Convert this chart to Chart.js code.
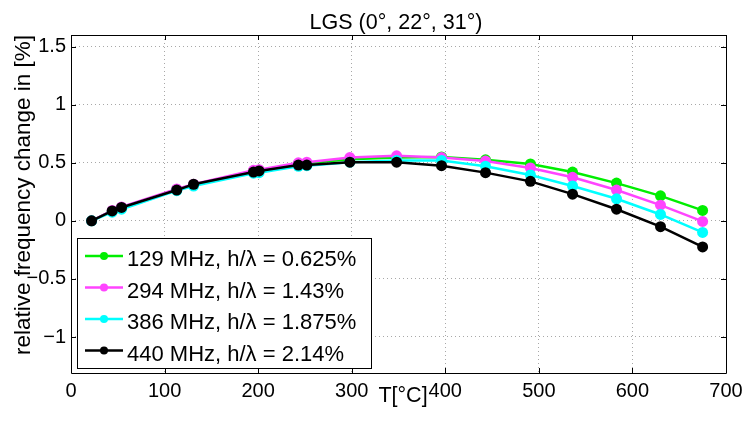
<!DOCTYPE html>
<html>
<head>
<meta charset="utf-8">
<script src="https://cdn.jsdelivr.net/npm/chart.js@4.4.1/dist/chart.umd.min.js"></script>
<style>
  html, body { margin: 0; padding: 0; background: #fff; }
  #wrap { width: 749px; height: 421px; position: relative; }
</style>
</head>
<body>
<div id="wrap"><canvas id="c" width="749" height="421"></canvas></div>
<script>
// chart data
const title = 'LGS (0°, 22°, 31°)';
const xLabel = 'T[°C]';
const yLabel = 'relative frequency change in [%]';
const xTicks = [0, 100, 200, 300, 400, 500, 600, 700];
const yTicks = [-1, -0.5, 0, 0.5, 1, 1.5];

const temps = [22, 44, 54, 113, 131, 195, 201, 243, 252, 298, 348, 396, 443, 491, 536, 583, 630, 675];
const f129 = [0, 0.085, 0.115, 0.27, 0.31, 0.425, 0.435, 0.49, 0.495, 0.53, 0.545, 0.55, 0.525, 0.49, 0.42, 0.325, 0.215, 0.09];
const f294 = [0, 0.09, 0.12, 0.275, 0.315, 0.435, 0.44, 0.5, 0.505, 0.545, 0.56, 0.545, 0.515, 0.455, 0.375, 0.265, 0.135, -0.005];
const f386 = [0, 0.075, 0.1, 0.26, 0.3, 0.41, 0.415, 0.47, 0.475, 0.505, 0.52, 0.52, 0.47, 0.395, 0.3, 0.19, 0.055, -0.1];
const f440 = [0, 0.085, 0.115, 0.265, 0.315, 0.42, 0.43, 0.48, 0.48, 0.505, 0.505, 0.475, 0.415, 0.34, 0.23, 0.1, -0.05, -0.225];

const seriesNames = ['129 MHz, h/λ = 0.625%', '294 MHz, h/λ = 1.43%', '386 MHz, h/λ = 1.875%', '440 MHz, h/λ = 2.14%'];
const seriesValues = [f129, f294, f386, f440];
const seriesColors = ['#00ee00', '#ff44ff', '#00ffff', '#000000'];

const FONT = '"Liberation Sans", Arial, Helvetica, sans-serif';

const datasets = seriesValues.map((vals, i) => ({
  label: seriesNames[i],
  data: temps.map((t, k) => ({ x: t, y: vals[k] })),
  borderColor: seriesColors[i],
  backgroundColor: seriesColors[i],
  borderWidth: 2.5,
  pointRadius: 5.5,
  pointBorderWidth: 0,
  tension: 0,
  // last series on top, like matlab
  order: seriesValues.length - 1 - i
}));

// box, inner ticks, legend and labels
const matlabDecor = {
  id: 'matlabDecor',
  afterDraw(chart) {
    const ctx = chart.ctx;
    const a = chart.chartArea;
    const xs = chart.scales.x, ys = chart.scales.y;
    ctx.save();
    ctx.strokeStyle = '#000';
    ctx.lineWidth = 1;
    ctx.beginPath();
    ctx.rect(Math.round(a.left) + 0.5, Math.round(a.top) + 0.5, Math.round(a.right - a.left), Math.round(a.bottom - a.top));
    ctx.stroke();

    // tick marks pointing inwards
    const tl = 5;
    ctx.beginPath();
    xTicks.forEach(v => {
      const px = Math.round(xs.getPixelForValue(v)) + 0.5;
      ctx.moveTo(px, a.bottom); ctx.lineTo(px, a.bottom - tl);
      ctx.moveTo(px, a.top); ctx.lineTo(px, a.top + tl);
    });
    yTicks.forEach(v => {
      const py = Math.round(ys.getPixelForValue(v)) + 0.5;
      ctx.moveTo(a.left, py); ctx.lineTo(a.left + tl, py);
      ctx.moveTo(a.right, py); ctx.lineTo(a.right - tl, py);
    });
    ctx.stroke();

    // legend
    const lx = 77, ly = 238, lw = 294, lh = 130;
    ctx.fillStyle = '#fff';
    ctx.fillRect(lx, ly, lw, lh);
    ctx.strokeRect(lx + 0.5, ly + 0.5, lw, lh);
    ctx.font = '22px ' + FONT;
    ctx.textBaseline = 'alphabetic';
    ctx.textAlign = 'left';
    seriesNames.forEach((name, i) => {
      const ry = 256 + i * 31.5;
      ctx.strokeStyle = seriesColors[i];
      ctx.lineWidth = 2.5;
      ctx.beginPath();
      ctx.moveTo(85, ry); ctx.lineTo(123, ry);
      ctx.stroke();
      ctx.fillStyle = seriesColors[i];
      ctx.beginPath();
      ctx.arc(104, ry, 4, 0, Math.PI * 2);
      ctx.fill();
      ctx.fillStyle = '#000';
      ctx.fillText(name, 127, ry + 10);
    });

    // title and axis labels
    ctx.fillStyle = '#000';
    ctx.textAlign = 'center';
    ctx.font = '21.5px ' + FONT;
    ctx.fillText(title, 396, 29);
    ctx.fillText(xLabel, 403, 402);
    ctx.translate(30, 195);
    ctx.rotate(-Math.PI / 2);
    ctx.font = '22.5px ' + FONT;
    ctx.fillText(yLabel, 0, 0);
    ctx.restore();
  }
};

new Chart(document.getElementById('c'), {
  type: 'line',
  data: { datasets },
  options: {
    responsive: false,
    animation: false,
    layout: { padding: { top: 35, right: 23, bottom: 0, left: 0 } },
    plugins: { legend: { display: false }, tooltip: { enabled: false }, title: { display: false } },
    scales: {
      x: {
        type: 'linear',
        min: 0, max: 700,
        afterBuildTicks: s => { s.ticks = xTicks.map(v => ({ value: v })); },
        afterFit: s => { s.height = 48; },
        ticks: { color: '#000', font: { family: FONT, size: 20 }, padding: 6, maxRotation: 0 },
        grid: { color: '#a8a8a8', lineWidth: 1, drawTicks: false },
        border: { display: false, dash: [1, 3] }
      },
      y: {
        type: 'linear',
        min: -1.31, max: 1.6,
        afterBuildTicks: s => { s.ticks = yTicks.map(v => ({ value: v })); },
        afterFit: s => { s.width = 71; },
        ticks: {
          color: '#000', font: { family: FONT, size: 20 }, padding: 5,
          callback: v => String(v).replace('-', '\u2212')
        },
        grid: { color: '#a8a8a8', lineWidth: 1, drawTicks: false },
        border: { display: false, dash: [1, 3] }
      }
    }
  },
  plugins: [matlabDecor]
});
</script>
</body>
</html>
